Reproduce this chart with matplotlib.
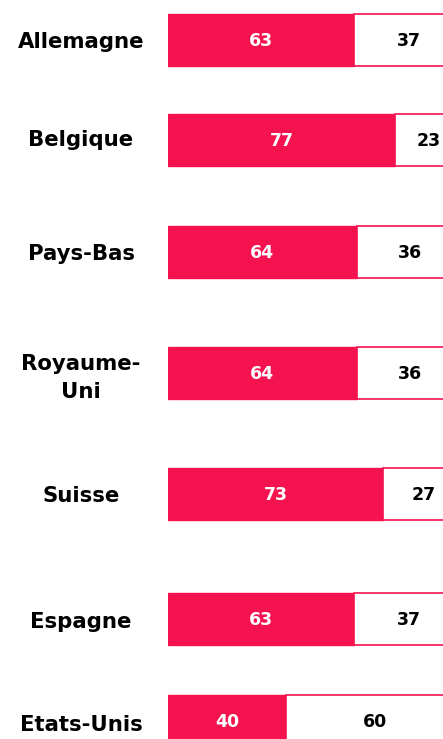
import matplotlib
matplotlib.use("Agg")
import matplotlib.pyplot as plt
import matplotlib.transforms as mtransforms

countries = ["Allemagne", "Belgique", "Pays-Bas", "Royaume-\nUni", "Suisse", "Espagne", "Etats-Unis"]
share_a = [63, 77, 64, 64, 73, 63, 40]
share_b = [37, 23, 36, 36, 27, 37, 60]

# bar centres in pixel rows (uneven spacing in the original)
y_pos = [40, 140, 252, 373, 494, 619, 721]
label_shift = [2, 0, 2, 5, 2, 3, 4]
PINK = "#F5134F"

plt.rcParams["font.family"] = ["DejaVu Sans"]

fig = plt.figure(figsize=(4.43, 7.39), dpi=100)
ax = fig.add_axes([168 / 443, 0, 1 - 168 / 443, 1])
ax.set_xlim(0, 93.2)
ax.set_ylim(739, 0)
ax.axis("off")

h = 52
ax.barh(y_pos, share_a, height=h, color=PINK, edgecolor=PINK, linewidth=1)
ax.barh(y_pos, share_b, left=share_a, height=h, color="white", edgecolor=PINK, linewidth=1.2)

for y, a, b in zip(y_pos, share_a, share_b):
    ax.text(a / 2, y + 1, str(a), ha="center", va="center", color="white",
            fontsize=12.5, fontweight="bold")
    ax.text(a + b / 2, y + 1, str(b), ha="center", va="center", color="black",
            fontsize=12.5, fontweight="bold")

trans = mtransforms.blended_transform_factory(fig.transFigure, ax.transData)
for y, dy, name in zip(y_pos, label_shift, countries):
    ax.text(81 / 443, y + dy, name, transform=trans, ha="center", va="center",
            fontsize=15.3, fontweight="bold", color="black", linespacing=1.45, clip_on=False)

fig.savefig("out.png", dpi=100)
